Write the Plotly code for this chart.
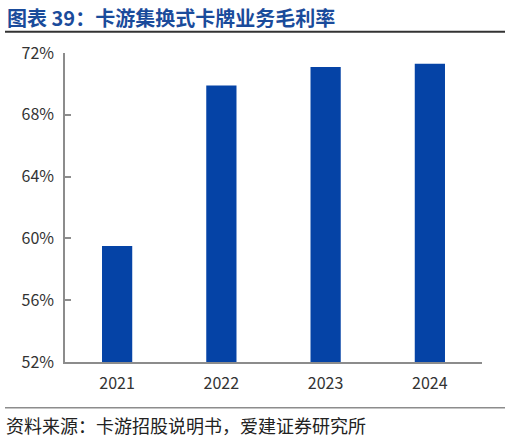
import plotly.graph_objects as go

years = ['2021', '2022', '2023', '2024']
margin_pct = [59.5, 69.9, 71.1, 71.3]
tick_vals = [52, 56, 60, 64, 68, 72]
tick_text = ['52%', '56%', '60%', '64%', '68%', '72%']

title = '图表 39：卡游集换式卡牌业务毛利率'
source = '资料来源：卡游招股说明书，爱建证券研究所'

W, H = 510, 439
L, R, T, B = 65, 28, 53, 77
pw, ph = W - L - R, H - T - B

# pixel -> paper coords helpers
def px(x):
    return (x - L) / pw

def py(y):
    return (H - B - y) / ph

fig = go.Figure()
fig.add_trace(go.Bar(x=years, y=margin_pct, width=0.29,
                     marker=dict(color='#0543A6', line=dict(width=0))))

fig.update_layout(
    width=W, height=H,
    margin=dict(l=L, r=R, t=T, b=B),
    paper_bgcolor='white', plot_bgcolor='white',
    showlegend=False,
    font=dict(family='Noto Sans CJK SC', color='#333333'),
)
fig.update_yaxes(range=[52, 72], tickvals=tick_vals, ticktext=tick_text,
                 showgrid=False, zeroline=False,
                 showline=True, linecolor='#8c8c8c', linewidth=1.5,
                 ticks='inside', ticklen=6, tickcolor='#8c8c8c', tickwidth=1.5,
                 tickfont=dict(size=16, color='#333333'), ticklabelstandoff=6)
fig.update_xaxes(showgrid=False, showline=True, linecolor='#8c8c8c', linewidth=1.5,
                 ticks='', tickfont=dict(size=16, color='#333333'),
                 ticklabelstandoff=6)

fig.add_annotation(text=title, xref='paper', yref='paper', x=px(5), y=py(17),
                   xanchor='left', yanchor='middle', showarrow=False,
                   font=dict(size=20, color='#1A4B9B', family='Noto Sans CJK SC', weight='bold'))
fig.add_annotation(text=source, xref='paper', yref='paper', x=px(4), y=py(425),
                   xanchor='left', yanchor='middle', showarrow=False,
                   font=dict(size=18, color='#222222', family='Noto Sans CJK SC'))

fig.add_shape(type='line', xref='paper', yref='paper', x0=px(5), x1=px(505),
              y0=py(31.7), y1=py(31.7), line=dict(color='#333333', width=2))
fig.add_shape(type='line', xref='paper', yref='paper', x0=px(5), x1=px(505),
              y0=py(407.7), y1=py(407.7), line=dict(color='#8c8c8c', width=1.5))

fig.write_html('out.html', config={'displayModeBar': False},
               post_script="document.body.style.margin='0';")
